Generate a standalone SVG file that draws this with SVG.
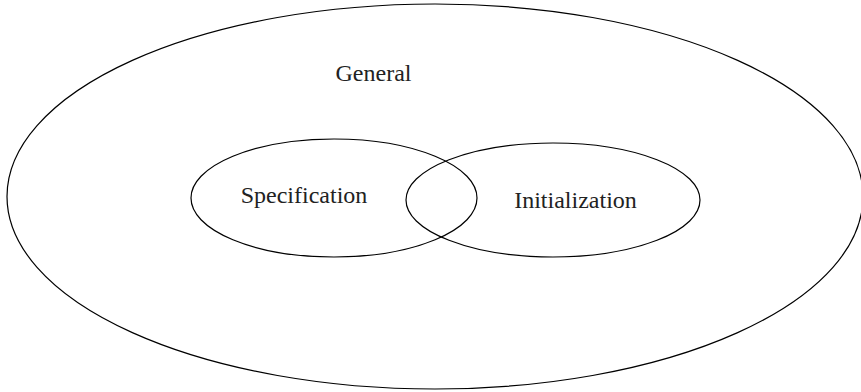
<svg xmlns="http://www.w3.org/2000/svg" width="861" height="392" viewBox="0 0 861 392">
<style>
.sh{fill:none;stroke:#000;stroke-width:1.2}
.t{font-family:"Liberation Serif","Times New Roman",serif;font-size:24px;fill:#222;text-anchor:middle}
</style>
<rect width="861" height="392" fill="#fff"/>
<g id="general">
<ellipse class="sh" cx="435" cy="196.5" rx="428" ry="192.5"/>
<text class="t" x="373.5" y="81">General</text>
</g>
<g id="specification">
<ellipse class="sh" cx="334" cy="198" rx="143" ry="59"/>
<text class="t" x="304" y="203">Specification</text>
</g>
<g id="initialization">
<ellipse class="sh" cx="553" cy="200" rx="147" ry="57"/>
<text class="t" x="575.5" y="208">Initialization</text>
</g>
<g id="connectors"/>
</svg>
